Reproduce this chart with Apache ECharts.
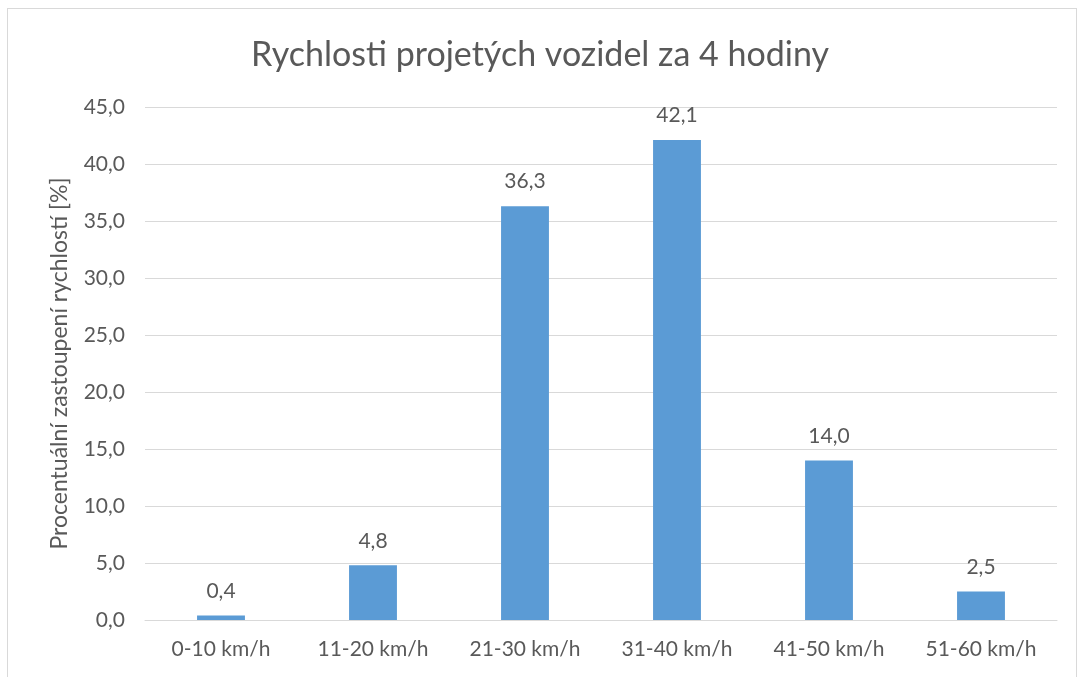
<!DOCTYPE html>
<html>
<head>
<meta charset="utf-8">
<script src="https://cdn.jsdelivr.net/npm/echarts@6/dist/echarts.min.js"></script>
<style>
  html, body { margin: 0; padding: 0; background: #fff; }
  #frame { position: absolute; left: 7px; top: 8px; width: 1070px; height: 680px; border: 1px solid #d9d9d9; box-sizing: border-box; }
  #chart { position: absolute; left: 0; top: 0; width: 1080px; height: 677px; }
</style>
</head>
<body>
<div id="frame"></div>
<div id="chart"></div>
<script>
const categories = ['0-10 km/h', '11-20 km/h', '21-30 km/h', '31-40 km/h', '41-50 km/h', '51-60 km/h']
const shares = [0.4, 4.8, 36.3, 42.1, 14.0, 2.5]

const FONT = 'Lato'
const TEXT = '#595959'
const fmt = v => v.toFixed(1).replace('.', ',')

const chart = echarts.init(document.getElementById('chart'), null, { renderer: 'canvas' })
chart.setOption({
  animation: false,
  title: {
    text: 'Rychlosti projetých vozidel za 4 hodiny',
    left: 'center',
    top: 33,
    textStyle: { fontFamily: FONT, fontSize: 34, fontWeight: 'normal', color: TEXT }
  },
  grid: { left: 145, right: 23, top: 107, bottom: 57 },
  xAxis: {
    type: 'category',
    data: categories,
    axisTick: { show: false },
    axisLine: { lineStyle: { color: '#d9d9d9', width: 1 } },
    axisLabel: { fontFamily: FONT, fontSize: 21, color: TEXT, margin: 19 }
  },
  yAxis: {
    type: 'value',
    min: 0,
    max: 45,
    interval: 5,
    name: 'Procentuální zastoupení rychlostí [%]',
    nameLocation: 'middle',
    nameGap: 74,
    nameTextStyle: { fontFamily: FONT, fontSize: 23, color: TEXT },
    axisLabel: { fontFamily: FONT, fontSize: 21, color: TEXT, margin: 20, formatter: fmt },
    splitLine: { lineStyle: { color: '#d9d9d9', width: 1 } }
  },
  series: [{
    type: 'bar',
    data: shares,
    barWidth: '31.5%',
    itemStyle: { color: '#5b9bd5' },
    label: {
      show: true,
      position: 'top',
      distance: 14,
      fontFamily: FONT,
      fontSize: 21,
      color: TEXT,
      formatter: p => fmt(p.value)
    }
  }]
})
</script>
</body>
</html>
